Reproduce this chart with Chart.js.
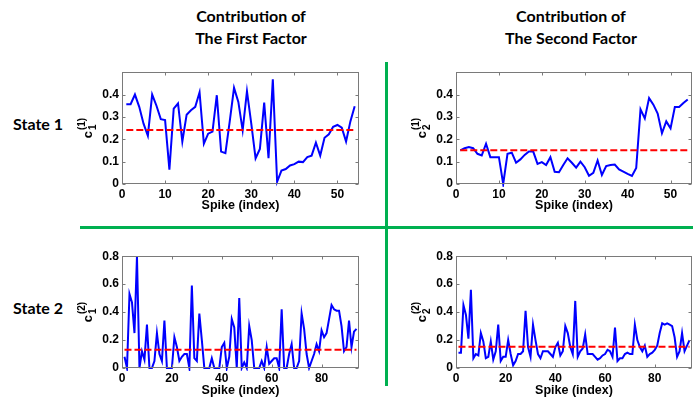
<!DOCTYPE html>
<html><head><meta charset="utf-8">
<script src="https://cdn.jsdelivr.net/npm/chart.js@4.4.0/dist/chart.umd.min.js"></script>
<style>
html,body{margin:0;padding:0;background:#fff;width:693px;height:401px;overflow:hidden;}
body{position:relative;font-family:Lato,"Open Sans",sans-serif;}
.t{position:absolute;font-weight:bold;color:#000;white-space:nowrap;}
.title{font-size:16px;line-height:22px;text-align:center;transform:translateX(-50%);top:5px;}
.state{font-size:16px;left:13px;line-height:20px;}
canvas{position:absolute;}
.g{position:absolute;background:#00b050;}
</style></head><body>
<div class="t title" style="left:251px;">Contribution of<br>The First Factor</div>
<div class="t title" style="left:571px;">Contribution of<br>The Second Factor</div>
<div class="t state" style="top:114px;">State 1</div>
<div class="t state" style="top:298px;">State 2</div>
<div class="g" style="left:385px;top:62px;width:3px;height:324px;"></div>
<div class="g" style="left:80px;top:226px;width:613px;height:3px;"></div>
<canvas id="c1" width="298" height="152" style="left:70px;top:62px;"></canvas>
<canvas id="c2" width="283" height="152" style="left:410px;top:62px;"></canvas>
<canvas id="c3" width="298" height="153" style="left:70px;top:246px;"></canvas>
<canvas id="c4" width="283" height="153" style="left:410px;top:246px;"></canvas>
<script>
// State 1, first factor c1(1)
const s1f1 = [0.357,0.357,0.40,0.345,0.27,0.216,0.40,0.35,0.29,0.286,0.064,0.337,0.36,0.19,0.31,0.33,0.345,0.41,0.18,0.225,0.234,0.397,0.145,0.138,0.28,0.43,0.367,0.24,0.415,0.27,0.115,0.157,0.364,0.115,0.468,0.01,0.06,0.067,0.083,0.089,0.10,0.098,0.12,0.127,0.185,0.127,0.207,0.222,0.256,0.264,0.252,0.19,0.28,0.348];
// State 1, second factor c2(1)
const s1f2 = [0.15,0.16,0.165,0.16,0.135,0.128,0.18,0.12,0.12,0.12,0.0,0.135,0.14,0.095,0.11,0.13,0.145,0.145,0.09,0.098,0.085,0.12,0.055,0.053,0.085,0.115,0.095,0.073,0.10,0.075,0.037,0.05,0.105,0.04,0.08,0.085,0.087,0.065,0.055,0.045,0.036,0.072,0.334,0.293,0.384,0.355,0.315,0.227,0.28,0.249,0.344,0.344,0.362,0.378];
// State 2, first factor c1(2)
const s2f1 = [0.08,0.0,0.53,0.47,0.25,0.80,0.0,0.12,0.06,0.31,0.0,0.0,0.05,0.25,0.10,0.05,0.34,0.0,0.0,0.0,0.22,0.15,0.05,0.08,0.10,0.10,0.0,0.59,0.07,0.05,0.39,0.20,0.0,0.0,0.0,0.07,0.0,0.0,0.0,0.15,0.18,0.0,0.08,0.35,0.29,0.0,0.50,0.0,0.04,0.0,0.30,0.20,0.0,0.0,0.0,0.05,0.0,0.15,0.03,0.05,0.07,0.07,0.0,0.42,0.0,0.0,0.10,0.17,0.0,0.0,0.05,0.39,0.28,0.10,0.0,0.05,0.10,0.17,0.12,0.27,0.22,0.25,0.35,0.45,0.42,0.41,0.41,0.30,0.12,0.15,0.34,0.15,0.26,0.28];
// State 2, second factor c2(2)
const s2f2 = [0.11,0.11,0.45,0.38,0.21,0.56,0.07,0.10,0.09,0.25,0.19,0.07,0.08,0.19,0.06,0.12,0.31,0.05,0.08,0.08,0.20,0.10,0.02,0.05,0.10,0.10,0.12,0.41,0.15,0.08,0.31,0.20,0.10,0.07,0.12,0.12,0.12,0.10,0.08,0.15,0.18,0.09,0.12,0.30,0.25,0.15,0.10,0.48,0.08,0.12,0.14,0.24,0.10,0.10,0.10,0.08,0.06,0.07,0.09,0.10,0.13,0.12,0.08,0.29,0.05,0.07,0.07,0.10,0.11,0.10,0.10,0.31,0.20,0.15,0.12,0.16,0.08,0.10,0.11,0.13,0.16,0.25,0.32,0.31,0.32,0.31,0.30,0.22,0.08,0.12,0.25,0.12,0.16,0.20];
// mean levels (red dashed)
const meanS1F1 = 0.242, meanS1F2 = 0.151, meanS2F1 = 0.130, meanS2F2 = 0.152;
// ticks
const topXTicks = [0,10,20,30,40,50];
const topYTicks = [0,0.1,0.2,0.3,0.4];
const botXTicks = [0,20,40,60,80];
const botYTicks = [0,0.2,0.4,0.6,0.8];
const xLabel = 'Spike (index)';

const tickFont = {family:'"Liberation Sans", Arial, sans-serif', weight:'bold', size:12};

const boxPlugin = {
  id:'boxAxes',
  afterDatasetsDraw(chart, args, o){
    const {ctx, chartArea:{left,right,top,bottom}, scales:{x,y}} = chart;
    ctx.save();
    ctx.strokeStyle = '#7a7a7a'; ctx.lineWidth = 1;
    const L = Math.round(left)+0.5, R = Math.round(right)-0.5, T = Math.round(top)+0.5, B = Math.round(bottom)-0.5;
    ctx.strokeRect(L, T, R-L, B-T);
    ctx.beginPath();
    const tl = 3;
    o.xt.forEach(v=>{const p=Math.round(x.getPixelForValue(v))+0.5; ctx.moveTo(p,B); ctx.lineTo(p,B-tl); ctx.moveTo(p,T); ctx.lineTo(p,T+tl);});
    o.yt.forEach(v=>{const p=Math.round(y.getPixelForValue(v))+0.5; ctx.moveTo(L,p); ctx.lineTo(L+tl,p); ctx.moveTo(R,p); ctx.lineTo(R-tl,p);});
    ctx.stroke();
    // y label c_sub^(sup)
    const cx = left - 30, cy = (top+bottom)/2;
    ctx.translate(cx, cy); ctx.rotate(-Math.PI/2);
    ctx.fillStyle = '#000'; ctx.textBaseline = 'alphabetic'; ctx.textAlign = 'left';
    ctx.font = 'bold 13px "Liberation Sans", Arial, sans-serif';
    const wc = ctx.measureText('c').width;
    ctx.font = 'bold 10px "Liberation Sans", Arial, sans-serif';
    const ws = Math.max(ctx.measureText(o.sup).width, ctx.measureText(o.sub).width);
    const x0 = -(wc + 1 + ws)/2;
    ctx.font = 'bold 13px "Liberation Sans", Arial, sans-serif';
    ctx.fillText('c', x0, 0);
    ctx.font = 'bold 10px "Liberation Sans", Arial, sans-serif';
    ctx.fillText(o.sup, x0+wc+1, -7);
    ctx.fillText(o.sub, x0+wc+1, 4);
    ctx.restore();
  }
};

function makeChart(id, vals, mean, xMax, xStep, xTicks, yMax, yStep, yTicks, yLimLabel, sup, sub, yW, padR, padT){
  const pts = vals.map((v,i)=>({x:i+1, y:v}));
  const meanPts = [{x:1, y:mean},{x:vals.length, y:mean}];
  new Chart(document.getElementById(id), {
    type:'line',
    data:{datasets:[
      {data:meanPts, borderColor:'#ff0000', borderWidth:2, borderDash:[7,3], pointRadius:0, tension:0, clip:3},
      {data:pts, borderColor:'#0000ff', borderWidth:2, pointRadius:0, tension:0, clip:3}
    ]},
    options:{
      responsive:false, animation:false, devicePixelRatio:1, events:[],
      layout:{padding:{left:0,right:padR,top:padT,bottom:0}},
      plugins:{legend:{display:false}, tooltip:{enabled:false},
        boxAxes:{xt:xTicks, yt:yTicks, sup:sup, sub:sub}},
      scales:{
        x:{type:'linear', min:0, max:xMax,
          ticks:{stepSize:xStep, includeBounds:false, font:tickFont, color:'#000', padding:3, maxRotation:0, autoSkip:false},
          grid:{display:false, drawTicks:false}, border:{display:false},
          title:{display:true, text:xLabel, color:'#000', font:{family:'"Liberation Sans", Arial, sans-serif', weight:'bold', size:12.5}, padding:{top:0,bottom:1}},
          afterFit(s){ s.height = id==='c1'||id==='c2' ? 30 : 31; }
        },
        y:{type:'linear', min:0, max:yMax,
          ticks:{stepSize:yStep, includeBounds:false, font:tickFont, color:'#000', padding:3,
            callback:(v)=> v > yLimLabel + 1e-9 ? '' : String(Math.round(v*10)/10)},
          grid:{display:false, drawTicks:false}, border:{display:false},
          afterFit(s){ s.width = yW; }
        }
      }
    },
    plugins:[boxPlugin]
  });
}

makeChart('c1', s1f1, meanS1F1, 55, 10, topXTicks, 0.5, 0.1, topYTicks, 0.4, '(1)', '1', 52, 9, 8);
makeChart('c2', s1f2, meanS1F2, 55, 10, topXTicks, 0.5, 0.1, topYTicks, 0.4, '(1)', '2', 46, 1, 8);
makeChart('c3', s2f1, meanS2F1, 95, 20, botXTicks, 0.8, 0.2, botYTicks, 0.8, '(2)', '1', 52, 9, 8.5);
makeChart('c4', s2f2, meanS2F2, 95, 20, botXTicks, 0.8, 0.2, botYTicks, 0.8, '(2)', '2', 46, 1, 8.5);
</script>
</body></html>
